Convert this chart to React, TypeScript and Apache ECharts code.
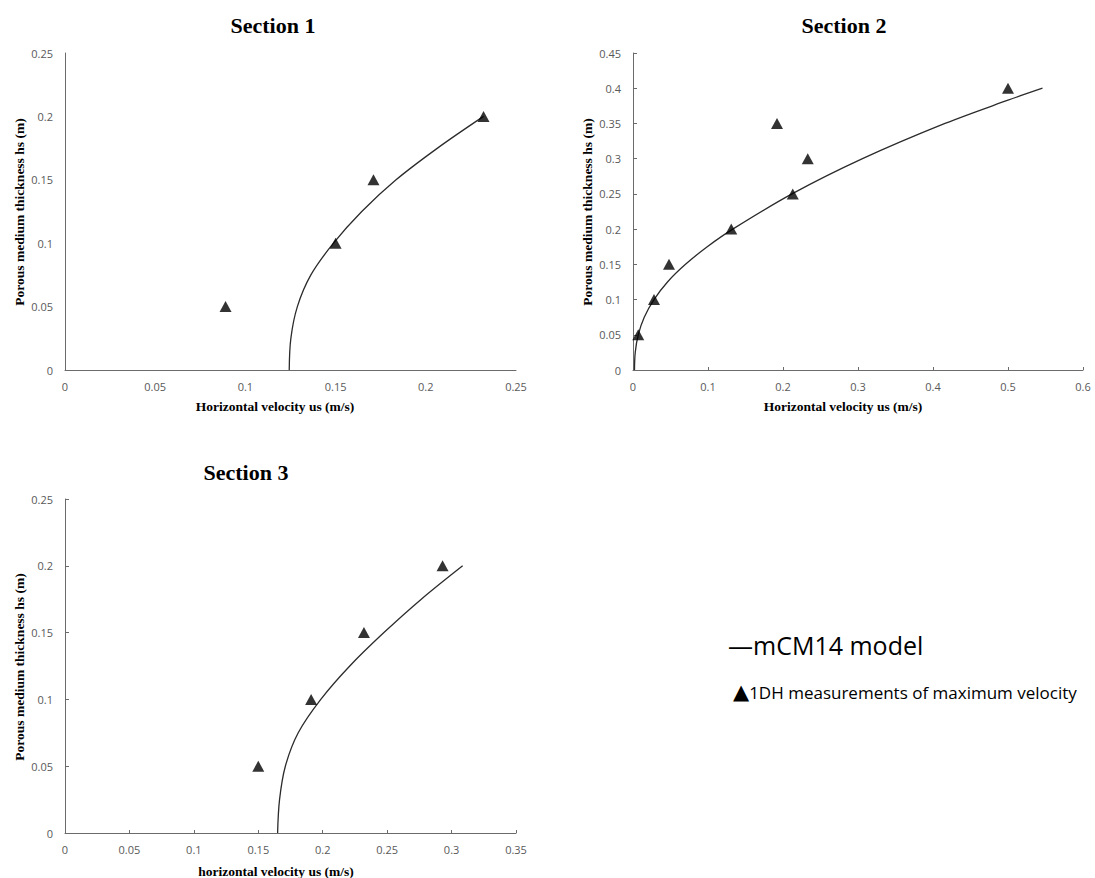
import React, { useEffect, useRef } from 'react';
import * as echarts from 'echarts';

const SECTION_TITLES = ['Section 1', 'Section 2', 'Section 3'];
const Y_AXIS_TITLE = 'Porous medium thickness hs (m)';
const X_AXIS_TITLES = ['Horizontal velocity us (m/s)', 'Horizontal velocity us (m/s)', 'horizontal velocity us (m/s)'];
const LEGEND_MODEL = '—mCM14 model';
const LEGEND_MARK = '▲';
const LEGEND_MEASURED = '1DH measurements of maximum velocity';

const X_MAX = [0.25, 0.6, 0.35];
const X_STEP = [0.05, 0.1, 0.05];
const Y_MAX = [0.25, 0.45, 0.25];
const Y_STEP = [0.05, 0.05, 0.05];

// Section 1
const s1MeasuredU = [0.089, 0.150, 0.171, 0.232];
const s1MeasuredH = [0.05, 0.10, 0.15, 0.20];
const s1ModelU = [0.1243, 0.1252, 0.1288, 0.1363, 0.1488, 0.1645, 0.1835, 0.2065, 0.232];
const s1ModelH = [0, 0.025, 0.05, 0.075, 0.1, 0.125, 0.15, 0.175, 0.2];

// Section 2
const s2MeasuredU = [0.007, 0.028, 0.048, 0.131, 0.192, 0.213, 0.233, 0.5];
const s2MeasuredH = [0.05, 0.10, 0.15, 0.20, 0.35, 0.25, 0.30, 0.40];
const s2ModelU = [0.002, 0.003, 0.007, 0.015, 0.028, 0.046, 0.07, 0.099, 0.133, 0.212, 0.306, 0.416, 0.5, 0.546];
const s2ModelH = [0, 0.025, 0.05, 0.075, 0.1, 0.125, 0.15, 0.175, 0.2, 0.25, 0.3, 0.35, 0.383, 0.4];

// Section 3
const s3MeasuredU = [0.150, 0.191, 0.232, 0.293];
const s3MeasuredH = [0.05, 0.10, 0.15, 0.20];
const s3ModelU = [0.165, 0.1665, 0.171, 0.181, 0.1985, 0.221, 0.2475, 0.2765, 0.3086];
const s3ModelH = [0, 0.025, 0.05, 0.075, 0.1, 0.125, 0.15, 0.175, 0.2];

const pair = (u: number[], h: number[]) => u.map((v, i) => [v, h[i]]);

const GRIDS = [
  { left: 65, top: 53, width: 451, height: 317 },
  { left: 633, top: 53, width: 450, height: 317 },
  { left: 65, top: 499, width: 451, height: 334 },
];
const SHOW_TICKS = [false, true, true];

const AXIS_COLOR = '#6b6b6b';
const LABEL_STYLE = { color: '#595959', fontSize: 11, fontFamily: '"Open Sans", sans-serif' };
const SERIF = '"Liberation Serif", "Times New Roman", serif';

export default function App() {
  const ref = useRef<HTMLDivElement>(null);
  useEffect(() => {
    if (!ref.current) return;
    const chart = echarts.init(ref.current, undefined, { renderer: 'svg' });
    const xAxis = GRIDS.map((_, i) => ({
      type: 'value',
      gridIndex: i,
      min: 0,
      max: X_MAX[i],
      interval: X_STEP[i],
      axisLine: { show: true, onZero: false, lineStyle: { color: AXIS_COLOR, width: 1 } },
      axisTick: { show: SHOW_TICKS[i], inside: true, length: 3, lineStyle: { color: AXIS_COLOR } },
      splitLine: { show: false },
      axisLabel: { ...LABEL_STYLE, margin: 11 },
    }));
    const yAxis = GRIDS.map((_, i) => ({
      type: 'value',
      gridIndex: i,
      min: 0,
      max: Y_MAX[i],
      interval: Y_STEP[i],
      axisLine: { show: true, onZero: false, lineStyle: { color: AXIS_COLOR, width: 1 } },
      axisTick: { show: SHOW_TICKS[i], inside: true, length: 4, lineStyle: { color: AXIS_COLOR } },
      splitLine: { show: false },
      axisLabel: { ...LABEL_STYLE, margin: 12 },
    }));
    const measured = [pair(s1MeasuredU, s1MeasuredH), pair(s2MeasuredU, s2MeasuredH), pair(s3MeasuredU, s3MeasuredH)];
    const model = [pair(s1ModelU, s1ModelH), pair(s2ModelU, s2ModelH), pair(s3ModelU, s3ModelH)];
    const series: any[] = [];
    GRIDS.forEach((_, i) => {
      series.push({
        type: 'line',
        xAxisIndex: i,
        yAxisIndex: i,
        data: model[i],
        smooth: 0.35,
        showSymbol: false,
        lineStyle: { color: '#2b2b2b', width: 1.3 },
        z: 2,
      });
      series.push({
        type: 'scatter',
        xAxisIndex: i,
        yAxisIndex: i,
        data: measured[i],
        symbol: 'triangle',
        symbolSize: [12, 11],
        itemStyle: { color: '#000' },
        z: 3,
      });
    });

    const titlePos = [
      [273, 25],
      [844, 25],
      [246, 472],
    ];
    const xNamePos = [
      [275, 406],
      [843, 406],
      [276, 871],
    ];
    const yNamePos = [
      [19, 212],
      [587, 212],
      [19, 667],
    ];
    const graphic: any[] = [];
    GRIDS.forEach((_, i) => {
      graphic.push({
        type: 'text',
        x: titlePos[i][0],
        y: titlePos[i][1],
        style: {
          text: SECTION_TITLES[i],
          font: `bold 22px ${SERIF}`,
          fill: '#000',
          textAlign: 'center',
          textVerticalAlign: 'middle',
          align: 'center',
          verticalAlign: 'middle',
        },
      });
      graphic.push({
        type: 'text',
        x: xNamePos[i][0],
        y: xNamePos[i][1],
        style: {
          text: X_AXIS_TITLES[i],
          font: `bold 13.5px ${SERIF}`,
          fill: '#000',
          textAlign: 'center',
          textVerticalAlign: 'middle',
          align: 'center',
          verticalAlign: 'middle',
        },
      });
      graphic.push({
        type: 'text',
        x: yNamePos[i][0],
        y: yNamePos[i][1],
        rotation: Math.PI / 2,
        style: {
          text: Y_AXIS_TITLE,
          font: `bold 13.5px ${SERIF}`,
          fill: '#000',
          textAlign: 'center',
          textVerticalAlign: 'middle',
          align: 'center',
          verticalAlign: 'middle',
        },
      });
    });
    graphic.push({
      type: 'text',
      x: 728,
      y: 645,
      style: {
        text: LEGEND_MODEL,
        font: '25px "Open Sans", sans-serif',
        fill: '#000',
        textAlign: 'left',
        textVerticalAlign: 'middle',
        align: 'left',
        verticalAlign: 'middle',
      },
    });
    graphic.push({
      type: 'text',
      x: 733,
      y: 692,
      style: {
        text: `{m|${LEGEND_MARK}}{t|${LEGEND_MEASURED}}`,
        fill: '#000',
        textAlign: 'left',
        textVerticalAlign: 'middle',
        align: 'left',
        verticalAlign: 'middle',
        rich: {
          m: { fontSize: 21, fontFamily: '"DejaVu Sans", sans-serif', fill: '#000', color: '#000' },
          t: { fontSize: 17, fontFamily: '"Open Sans", sans-serif', fill: '#000', color: '#000' },
        },
      },
    });

    chart.setOption({
      animation: false,
      backgroundColor: '#ffffff',
      grid: GRIDS.map((g) => ({ ...g, containLabel: false })),
      xAxis,
      yAxis,
      series,
      graphic,
    });
    return () => chart.dispose();
  }, []);
  return (
    <div
      ref={ref}
      style={{ position: 'absolute', left: 0, top: 0, width: 1095, height: 878, background: '#fff' }}
    />
  );
}
